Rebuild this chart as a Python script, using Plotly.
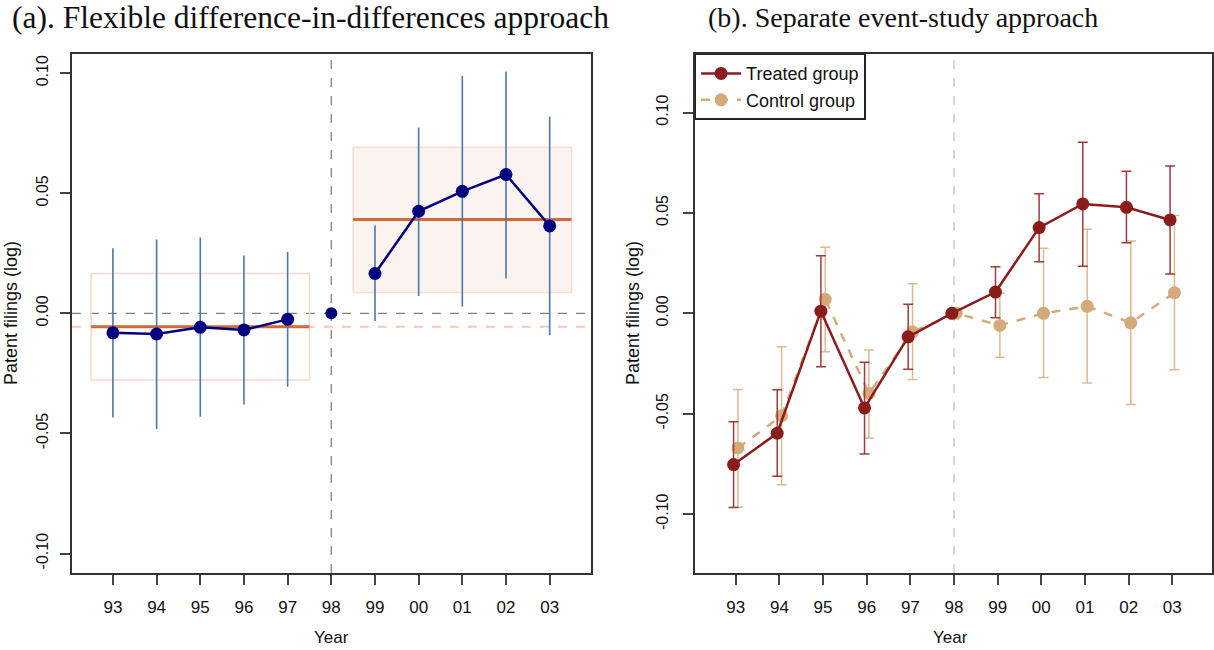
import plotly.graph_objects as go

# ---------------- data ----------------
years = ["93", "94", "95", "96", "97", "98", "99", "00", "01", "02", "03"]
idx = list(range(len(years)))

# Panel (a): flexible DiD coefficients and 95% CI
did_coef = [-0.0081, -0.0086, -0.0058, -0.0069, -0.0025, 0.0, 0.0166, 0.0425, 0.0508, 0.0578, 0.0364]
did_hi = [0.0271, 0.0307, 0.0316, 0.0241, 0.0255, None, 0.0366, 0.0774, 0.0989, 0.1007, 0.0820]
did_lo = [-0.0434, -0.0481, -0.0431, -0.0380, -0.0306, None, -0.0032, 0.0072, 0.0028, 0.0145, -0.0091]

pre_mean = -0.0056
pre_band = [-0.0278, 0.0166]
post_mean = 0.0391
post_band = [0.0087, 0.0692]

# Panel (b): separate event studies
treat = [-0.0753, -0.0597, 0.0011, -0.0471, -0.0117, 0.0, 0.0106, 0.0427, 0.0545, 0.0528, 0.0465]
treat_hi = [-0.0540, -0.0381, 0.0287, -0.0244, 0.0045, None, 0.0232, 0.0595, 0.0852, 0.0708, 0.0734]
treat_lo = [-0.0967, -0.0811, -0.0266, -0.0700, -0.0278, None, -0.0022, 0.0257, 0.0234, 0.0352, 0.0196]

ctrl = [-0.0670, -0.0510, 0.0070, -0.0399, -0.0092, 0.0, -0.0060, 0.0, 0.0035, -0.0047, 0.0103]
ctrl_hi = [-0.0379, -0.0166, 0.0329, -0.0183, 0.0148, None, 0.0100, 0.0324, 0.0419, 0.0360, 0.0487]
ctrl_lo = [-0.0966, -0.0853, -0.0191, -0.0622, -0.0329, None, -0.0219, -0.0319, -0.0347, -0.0454, -0.0281]

y_ticks_vals = [-0.10, -0.05, 0.0, 0.05, 0.10]
y_ticks_text = ["-0.10", "-0.05", "0.00", "0.05", "0.10"]

titles = ["(a). Flexible difference-in-differences approach", "(b). Separate event-study approach"]
series_names = ["Treated group", "Control group"]

# ---------------- helpers ----------------
def err_plus(v, hi):
    return [0 if h is None else h - x for x, h in zip(v, hi)]

def err_minus(v, lo):
    return [0 if l is None else x - l for x, l in zip(v, lo)]

SANS = "Liberation Sans, Arial, sans-serif"
SERIF = "Liberation Serif, Times New Roman, serif"

NAVY = "#00007F"
CI_BLUE = "#4A78A8"
ORANGE = "#D2693A"
ORANGE_LIGHT = "#F5C9B6"
TREAT = "#8B1C1C"
TREAT_CI = "#A33A3A"
CTRL = "#D4AA7A"
CTRL_CI = "#DDBA90"

fig = go.Figure()

# ---------- panel (a) ----------
fig.add_shape(type="rect", xref="x", yref="y", x0=-0.5, x1=4.5, y0=pre_band[0], y1=pre_band[1],
              line=dict(color="#F6D8CE", width=1.5), fillcolor="rgba(255,255,255,0)", layer="below")
fig.add_shape(type="rect", xref="x", yref="y", x0=5.5, x1=10.5, y0=post_band[0], y1=post_band[1],
              line=dict(color="#F6DDD3", width=1.5), fillcolor="#FBF3EF", layer="below")
fig.add_shape(type="line", xref="x domain", yref="y", x0=0, x1=1, y0=pre_mean, y1=pre_mean,
              line=dict(color=ORANGE_LIGHT, width=2, dash="dash"), layer="below")
fig.add_shape(type="line", xref="x domain", yref="y", x0=0, x1=1, y0=0, y1=0,
              line=dict(color="#808080", width=1.2, dash="dash"), layer="below")
fig.add_shape(type="line", xref="x", yref="y domain", x0=5, x1=5, y0=0, y1=1,
              line=dict(color="#909090", width=1.5, dash="dash"), layer="below")
fig.add_shape(type="line", xref="x", yref="y", x0=-0.5, x1=4.5, y0=pre_mean, y1=pre_mean,
              line=dict(color=ORANGE, width=3), layer="below")
fig.add_shape(type="line", xref="x", yref="y", x0=5.5, x1=10.5, y0=post_mean, y1=post_mean,
              line=dict(color=ORANGE, width=3), layer="below")

fig.add_trace(go.Scatter(
    x=idx, y=did_coef, mode="markers", xaxis="x", yaxis="y", showlegend=False,
    marker=dict(size=0.1, color=CI_BLUE, opacity=0),
    error_y=dict(type="data", symmetric=False, array=err_plus(did_coef, did_hi),
                 arrayminus=err_minus(did_coef, did_lo), color=CI_BLUE, thickness=1.6, width=0),
))
pre_i = idx[:5]
post_i = idx[6:]
fig.add_trace(go.Scatter(x=pre_i, y=did_coef[:5], mode="lines+markers", xaxis="x", yaxis="y",
                         showlegend=False, line=dict(color=NAVY, width=2.5),
                         marker=dict(size=13, color=NAVY)))
fig.add_trace(go.Scatter(x=[idx[5]], y=[did_coef[5]], mode="markers", xaxis="x", yaxis="y",
                         showlegend=False, marker=dict(size=12, color=NAVY)))
fig.add_trace(go.Scatter(x=post_i, y=did_coef[6:], mode="lines+markers", xaxis="x", yaxis="y",
                         showlegend=False, line=dict(color=NAVY, width=2.5),
                         marker=dict(size=13, color=NAVY)))

# ---------- panel (b) ----------
fig.add_shape(type="line", xref="x2", yref="y2 domain", x0=5, x1=5, y0=0, y1=1,
              line=dict(color="#C8C8C8", width=1.5, dash="dash"), layer="below")

off = 0.05
ctrl_x = [i + off for i in idx]
treat_x = [i - off for i in idx]

fig.add_trace(go.Scatter(
    x=ctrl_x, y=ctrl, mode="lines+markers", xaxis="x2", yaxis="y2", name=series_names[1],
    line=dict(color=CTRL, width=2.5, dash="dash"), marker=dict(size=13, color=CTRL),
    error_y=dict(type="data", symmetric=False, array=err_plus(ctrl, ctrl_hi),
                 arrayminus=err_minus(ctrl, ctrl_lo), color=CTRL_CI, thickness=1.5, width=5),
    legendrank=2,
))
fig.add_trace(go.Scatter(
    x=treat_x, y=treat, mode="lines+markers", xaxis="x2", yaxis="y2", name=series_names[0],
    line=dict(color=TREAT, width=2.5), marker=dict(size=13, color=TREAT),
    error_y=dict(type="data", symmetric=False, array=err_plus(treat, treat_hi),
                 arrayminus=err_minus(treat, treat_lo), color=TREAT_CI, thickness=1.5, width=5),
    legendrank=1,
))

# ---------- axes ----------
W, H = 1214, 650
ydom = [1 - 573 / H, 1 - 53.7 / H]

axis_common = dict(
    showgrid=False, zeroline=False, showline=True, mirror=True, linecolor="#333333", linewidth=1.8,
    ticks="outside", ticklen=10, tickwidth=1.5, tickcolor="#444444",
)
xfont = dict(family=SANS, size=17, color="#111111")
yfont = dict(family=SANS, size=16, color="#111111")

fig.update_layout(
    width=W, height=H, margin=dict(l=0, r=0, t=0, b=0),
    paper_bgcolor="white", plot_bgcolor="white",
    xaxis=dict(domain=[72 / W, 591.7 / W], range=[-0.94, 10.94], tickvals=idx, ticktext=years,
               anchor="y", ticklabelstandoff=8, tickfont=xfont, **axis_common),
    yaxis=dict(domain=ydom, range=[-0.1081, 0.1081], tickvals=y_ticks_vals, ticktext=y_ticks_text,
               tickangle=-90, anchor="x", ticklabelstandoff=6, tickfont=yfont, **axis_common),
    xaxis2=dict(domain=[695.7 / W, 1.0], range=[-0.944, 10.91], tickvals=idx, ticktext=years,
                anchor="y2", ticklabelstandoff=8, tickfont=xfont, **axis_common),
    yaxis2=dict(domain=ydom, range=[-0.1293, 0.1293], tickvals=y_ticks_vals, ticktext=y_ticks_text,
                tickangle=-90, anchor="x2", ticklabelstandoff=8, tickfont=yfont, **axis_common),
    legend=dict(x=695.7 / W, y=ydom[1], xanchor="left", yanchor="top",
                bgcolor="white", bordercolor="#222222", borderwidth=1.5,
                font=dict(family=SANS, size=18, color="#111111"),
                traceorder="normal", itemwidth=40, tracegroupgap=0),
    showlegend=True,
)

# ---------- text ----------
ann = []
ann.append(dict(text=titles[0], x=311 / W, y=1 - 18 / H, xref="paper", yref="paper",
                showarrow=False, xanchor="center", yanchor="middle",
                font=dict(family=SERIF, size=31.5, color="#111111")))
ann.append(dict(text=titles[1], x=904 / W, y=1 - 18 / H, xref="paper", yref="paper",
                showarrow=False, xanchor="center", yanchor="middle",
                font=dict(family=SERIF, size=28, color="#111111")))
for xc in [(72 + 591.7) / 2, (695.7 + 1214) / 2 - 3]:
    ann.append(dict(text="Year", x=xc / W, y=1 - 637 / H, xref="paper", yref="paper",
                    showarrow=False, xanchor="center", yanchor="middle",
                    font=dict(family=SANS, size=17, color="#111111")))
for xc in [11, 634]:
    ann.append(dict(text="Patent filings (log)", x=xc / W, y=1 - 313 / H, xref="paper", yref="paper",
                    showarrow=False, xanchor="center", yanchor="middle", textangle=-90,
                    font=dict(family=SANS, size=18, color="#111111")))
fig.update_layout(annotations=ann)

fig.write_html("out.html", config={"displayModeBar": False},
               post_script="document.body.style.margin='0px';document.body.style.overflow='hidden';")
